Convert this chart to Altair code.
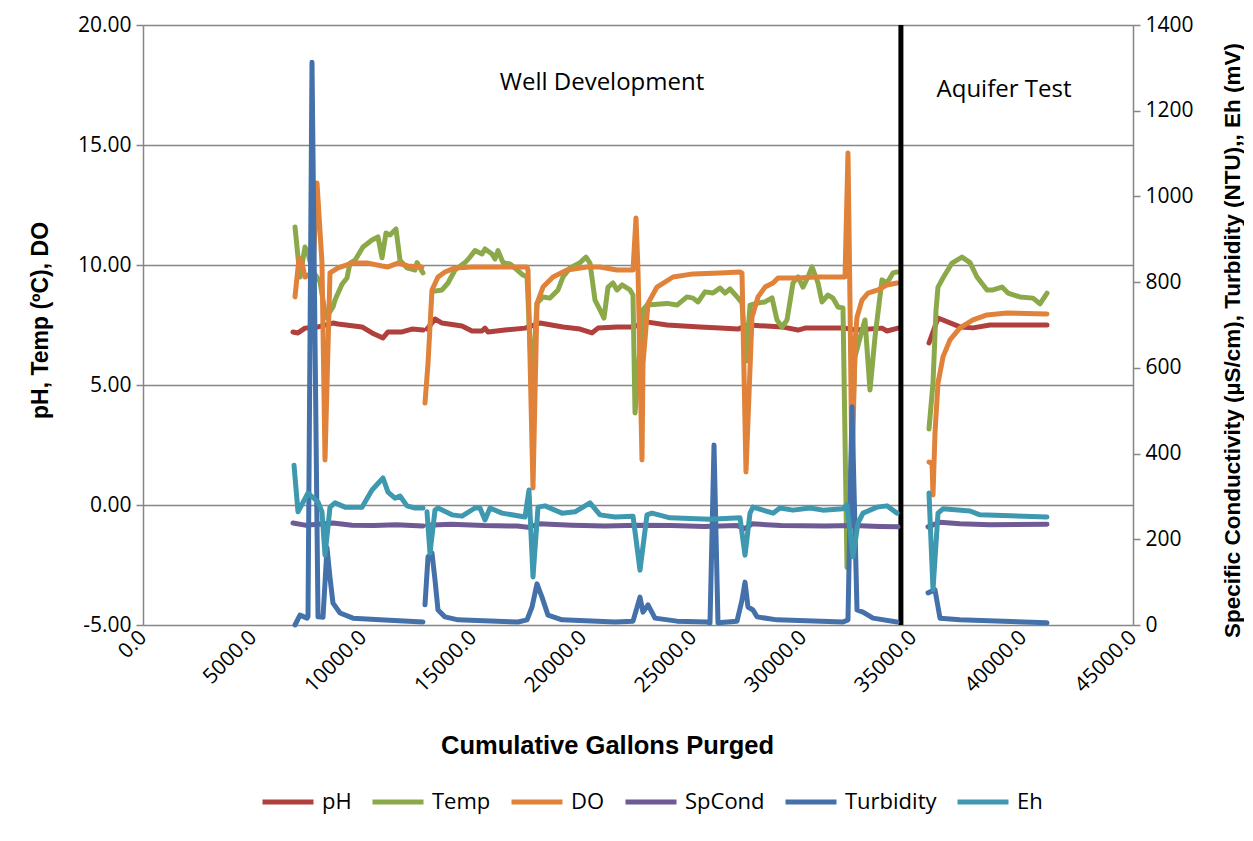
import altair as alt
import pandas as pd

# ---------------- data ----------------
series_names = ["pH", "Temp", "DO", "SpCond", "Turbidity", "Eh"]
series_colors = ["#B0403D", "#8CA94A", "#E0823A", "#6E5A94", "#4471AA", "#3D98B0"]

ph_x = [6818, 7045, 7364, 7955, 8636, 8864, 9955, 10409, 10909, 11136, 11773, 12227, 12727,
        12909, 13273, 13591, 14500, 14955, 15409, 15545, 15682, 16455, 17364, 18045, 19091,
        19864, 20409, 20682, 21545, 22273, 22955, 23818, 25318, 26227, 27045, 27500, 29045,
        29773, 30091, 31909, 32364, 33591, 33818, 34318,
        35727, 36136, 37136, 37727, 38500, 41091]
ph_y = [7.21, 7.17, 7.37, 7.42, 7.58, 7.54, 7.42, 7.17, 6.96, 7.21, 7.21, 7.33, 7.29,
        7.33, 7.75, 7.58, 7.46, 7.25, 7.25, 7.37, 7.21, 7.29, 7.37, 7.58, 7.42,
        7.33, 7.17, 7.37, 7.42, 7.42, 7.62, 7.50, 7.42, 7.37, 7.33, 7.50, 7.42,
        7.29, 7.37, 7.37, 7.29, 7.37, 7.25, 7.37,
        6.75, 7.79, 7.42, 7.38, 7.50, 7.50]

temp_x = [6909, 7136, 7364, 7500, 7682, 8045, 8318, 8636, 8727, 9045, 9273, 9409, 9636, 10000,
          10409, 10682, 10864, 11045, 11227, 11500, 11682, 12000, 12364, 12455, 12727,
          13182, 13591, 13864, 14182, 14636, 14864, 15091, 15409, 15545, 15864, 16000, 16136,
          16364, 16682, 17000, 17273, 17455, 17682, 17909, 18182, 18500, 18864, 19091, 19409,
          19864, 20136, 20318, 20545, 20773, 20955, 21136, 21364, 21545, 21773, 22136, 22273,
          22364, 22727, 22909, 23818, 24273, 24727, 25000, 25227, 25545, 25909, 26227, 26455,
          26682, 27045, 27227, 27409, 27591, 27955, 28273, 28591, 28818, 29045, 29273, 29545,
          29773, 30000, 30227, 30409, 30682, 30864, 31136, 31364, 31591, 31818, 32000, 32364,
          32682, 32818, 33045, 33273, 33591, 33818, 34091, 34273,
          35727, 35909, 36045, 36136, 36364, 36773, 37227, 37591, 37909, 38364, 38636, 39045,
          39318, 39864, 40455, 40773, 41091]
temp_y = [11.58, 9.50, 10.75, 10.50, 9.80, 9.30, 7.80, 8.25, 8.54, 9.20, 9.46, 10.08, 10.20, 10.75,
          11.04, 11.17, 10.30, 11.33, 11.25, 11.50, 10.20, 9.88, 9.79, 10.10, 9.67,
          8.90, 8.96, 9.25, 9.79, 10.10, 10.33, 10.60, 10.46, 10.67, 10.46, 10.25, 10.60,
          10.10, 10.04, 9.80, 9.58, 9.50, 4.90, 8.40, 8.67, 8.62, 8.96, 9.50, 9.88,
          10.10, 10.33, 10.08, 8.54, 8.13, 7.79, 9.08, 9.25, 8.96, 9.17, 8.96, 8.75,
          3.83, 8.13, 8.33, 8.40, 8.33, 8.67, 8.62, 8.46, 8.88, 8.83, 9.04, 8.83,
          9.00, 8.63, 8.42, 6.00, 8.33, 8.42, 8.46, 8.63, 7.71, 7.42, 7.71, 9.25,
          9.50, 9.08, 9.50, 9.92, 9.25, 8.46, 8.75, 8.62, 8.25, 8.21, -2.60, 6.17,
          7.29, 7.71, 4.79, 7.00, 9.38, 9.25, 9.67, 9.71,
          3.17, 5.08, 8.10, 9.08, 9.46, 10.08, 10.33, 10.10, 9.50, 8.96, 8.96, 9.08,
          8.83, 8.67, 8.62, 8.38, 8.83]

do_x = [6909, 7091, 7227, 7364, 7727, 7909, 8136, 8273, 8500, 8864, 9500, 10227, 10864, 11136,
        11591, 12045, 12682,
        12818, 12955, 13136, 13409, 13727, 14182, 14955, 16455, 17455, 17500, 17727, 17909,
        18182, 18636, 19273, 20182, 20773, 21545, 22273, 22409, 22500, 22682, 22727, 22955,
        23364, 24091, 25000, 26227, 27136, 27227, 27409, 27682, 27955, 28273, 28636, 28864,
        29773, 30545, 31909, 32045, 32136, 32227, 32364, 32455, 32682, 32955, 33409, 33818, 34273,
        35727, 35864, 35909, 36000, 36136, 36364, 36682, 37136, 37727, 38364, 39273, 41091]
do_y = [8.67, 10.29, 10.08, 9.50, 9.70, 13.42, 10.08, 1.88, 9.67, 9.88, 10.08, 10.08, 9.96, 9.92,
        10.08, 9.96, 9.92,
        4.25, 5.90, 8.96, 9.50, 9.71, 9.88, 9.92, 9.92, 9.92, 9.79, 0.71, 8.40,
        9.08, 9.50, 9.79, 9.92, 9.92, 9.79, 9.79, 11.96, 9.79, 1.88, 5.90, 8.40,
        9.08, 9.50, 9.63, 9.67, 9.71, 9.67, 1.38, 7.83, 8.67, 9.08, 9.25, 9.46,
        9.46, 9.50, 9.50, 14.67, 8.50, 1.00, 6.75, 7.83, 8.54, 8.83, 8.96, 9.17, 9.25,
        1.79, 1.75, 0.42, 3.00, 5.08, 6.17, 6.88, 7.38, 7.71, 7.92, 8.00, 7.96]

spcond_x = [6818, 7364, 7955, 8636, 9500, 10500, 11500, 12727,
            12909, 14000, 15500, 17000, 17500, 18000, 19500, 21000, 22500, 24000, 25500,
            27000, 27364, 27682, 29000, 31000, 32273, 33500, 34318,
            35682, 36227, 37136, 38500, 41091]
spcond_y = [238, 233, 235, 238, 233, 232, 234, 231,
            233, 235, 232, 231, 228, 236, 233, 231, 233, 232, 230,
            232, 225, 236, 232, 231, 232, 230, 229,
            229, 240, 236, 234, 235]

turb_x = [6909, 7136, 7455, 7500, 7682, 7955, 8182, 8364, 8500, 8636, 8955, 9545, 10773, 12727,
          12818, 12955, 13136, 13273, 13409, 13727, 14318, 17045, 17455, 17682, 17909, 18136,
          18409, 19045, 21455, 22273, 22591, 22727, 22955, 23273, 24273, 25636, 25773, 25955,
          26136, 27000, 27227, 27364, 27500, 27727, 27909, 28818, 31818, 32045, 32227, 32455,
          32727, 33182, 34273,
          35682, 36000, 36227, 37136, 41091]
turb_y = [0, 23, 16, 20, 1313, 19, 18, 180, 110, 51, 28, 16, 12, 7,
          47, 159, 168, 105, 35, 19, 12, 7, 12, 42, 96, 65,
          23, 12, 7, 9, 65, 30, 47, 16, 9, 7, 5, 420,
          5, 9, 58, 100, 42, 35, 19, 12, 7, 12, 509, 35,
          30, 16, 7,
          75, 82, 16, 12, 5]

eh_x = [6864, 7045, 7500, 7955, 8136, 8273, 8500, 8727, 9182, 9955, 10409, 10909, 11136, 11455,
        11682, 12000, 12364, 12727,
        12909, 13045, 13273, 13409, 14045, 14500, 15091, 15318, 15545, 15773, 16318, 17364,
        17545, 17727, 17955, 18273, 19045, 19636, 20318, 20773, 21455, 22273, 22591, 22909,
        23136, 23955, 25773, 27136, 27364, 27591, 27727, 28636, 28955, 29545, 30318, 30909,
        31818, 32000, 32273, 32500, 32727, 33364, 33818, 34273,
        35727, 35909, 36136, 36364, 37591, 38045, 41091]
eh_y = [373, 264, 308, 287, 264, 163, 275, 285, 275, 275, 315, 343, 310, 296,
        301, 278, 273, 273,
        264, 168, 268, 273, 257, 254, 273, 273, 245, 273, 261, 252,
        315, 112, 275, 278, 261, 264, 285, 257, 252, 254, 128, 257,
        261, 250, 247, 250, 163, 261, 275, 261, 273, 268, 273, 268,
        271, 280, 159, 238, 261, 275, 278, 261,
        308, 82, 261, 271, 266, 257, 252]

divider_x = [34450]
notes_text = ["Well Development", "Aquifer Test"]
notes_x = [20864, 39136]
notes_y = [17.58, 17.29]

x_ticks = [0, 5000, 10000, 15000, 20000, 25000, 30000, 35000, 40000, 45000]
left_ticks = [-5, 0, 5, 10, 15, 20]
right_ticks = [0, 200, 400, 600, 800, 1000, 1200, 1400]


def frame(name, xs, ys):
    df = pd.DataFrame({"x": xs, "v": ys})
    df["series"] = name
    df["seg"] = ["A" if x < 12780 else ("B" if x < 35000 else "C") for x in xs]
    return df


frames = {
    "pH": frame("pH", ph_x, ph_y),
    "Temp": frame("Temp", temp_x, temp_y),
    "DO": frame("DO", do_x, do_y),
    "SpCond": frame("SpCond", spcond_x, spcond_y),
    "Turbidity": frame("Turbidity", turb_x, turb_y),
    "Eh": frame("Eh", eh_x, eh_y),
}

GRAY = "#868686"
LABEL_FONT = "Open Sans"
TITLE_FONT = "Liberation Sans"

x_enc = alt.X("x:Q",
              scale=alt.Scale(domain=[0, 45000], nice=False, zero=False),
              axis=alt.Axis(values=x_ticks, format=".1f", labelAngle=315,
                            labelAlign="right", labelBaseline="middle",
                            labelPadding=9, ticks=False, domain=False,
                            grid=False,
                            labelFont=LABEL_FONT, labelFontSize=21, labelColor="#000",
                            title="Cumulative Gallons Purged", titleFont=TITLE_FONT,
                            titleFontSize=25.5, titleFontWeight="bold", titleColor="#000",
                            titleX=464, titleY=120, titleBaseline="middle",
                            titleAlign="center"))

color_enc = alt.Color("series:N",
                      scale=alt.Scale(domain=series_names, range=series_colors),
                      legend=alt.Legend(orient="none", legendX=117, legendY=749,
                                        direction="horizontal", title=None,
                                        symbolType="stroke", symbolSize=2600,
                                        symbolStrokeWidth=5, labelFont=LABEL_FONT,
                                        labelFontSize=22, labelColor="#000",
                                        labelOffset=6, columnPadding=10,
                                        symbolOffset=0))

left_y_axis = alt.Axis(values=left_ticks,
                       labelExpr="replace(format(datum.value, '.2f'), '\u2212', '-')",
                       grid=True, gridColor=GRAY,
                       gridWidth=1.5, domainColor=GRAY, domainWidth=1.5, tickColor=GRAY,
                       tickWidth=1.5, tickSize=7, labelFont=LABEL_FONT, labelFontSize=21,
                       labelColor="#000", labelPadding=5,
                       title="pH, Temp (ºC), DO", titleFont=TITLE_FONT, titleFontSize=23,
                       titleFontWeight="bold", titleColor="#000", titleAngle=270,
                       titleX=-103, titleY=295, titleAlign="center",
                       titleBaseline="middle")
right_y_axis = alt.Axis(values=right_ticks, format="d", grid=False, orient="right",
                        domainColor=GRAY, domainWidth=1.5, tickColor=GRAY, tickWidth=1.5,
                        tickSize=7, labelFont=LABEL_FONT, labelFontSize=21,
                        labelColor="#000", labelPadding=5,
                        title="Specific Conductivity (µS/cm), Turbidity (NTU),, Eh (mV)",
                        titleFont=TITLE_FONT, titleFontSize=22.5, titleFontWeight="bold",
                        titleColor="#000", titleAngle=270, titleX=99, titleY=315,
                        titleAlign="center", titleBaseline="middle")

left_scale = alt.Scale(domain=[-5, 20], nice=False, zero=False)
right_scale = alt.Scale(domain=[0, 1400], nice=False, zero=False)


def line_layer(name, axis_obj, scale_obj):
    return alt.Chart(frames[name]).mark_line(strokeWidth=5, strokeCap="round",
                                             strokeJoin="round").encode(
        x=x_enc,
        y=alt.Y("v:Q", scale=scale_obj, axis=axis_obj),
        color=color_enc,
        detail="seg:N",
        order="x:Q",
    )


divider = alt.Chart(pd.DataFrame({"x": divider_x})).mark_rule(
    color="#000", strokeWidth=5).encode(x=x_enc)

notes = alt.Chart(pd.DataFrame({"t": notes_text, "x": notes_x, "v": notes_y})).mark_text(
    font=LABEL_FONT, fontSize=24, color="#000", align="center", baseline="middle").encode(
    x=x_enc, y=alt.Y("v:Q", scale=left_scale, axis=left_y_axis), text="t:N")

left = alt.layer(
    line_layer("pH", left_y_axis, left_scale),
    line_layer("Temp", left_y_axis, left_scale),
    line_layer("DO", left_y_axis, left_scale),
    divider, notes,
)
right = alt.layer(
    line_layer("SpCond", right_y_axis, right_scale),
    line_layer("Turbidity", right_y_axis, right_scale),
    line_layer("Eh", right_y_axis, right_scale),
)

chart = alt.layer(left, right).resolve_scale(y="independent").properties(
    width=990, height=600,
    autosize=alt.AutoSizeParams(type="none"),
    padding={"left": 135, "top": 17, "right": 111, "bottom": 200},
).configure(background="white").configure_view(strokeWidth=0)

chart.save("out.html", embed_options={"renderer": "svg", "actions": False})
